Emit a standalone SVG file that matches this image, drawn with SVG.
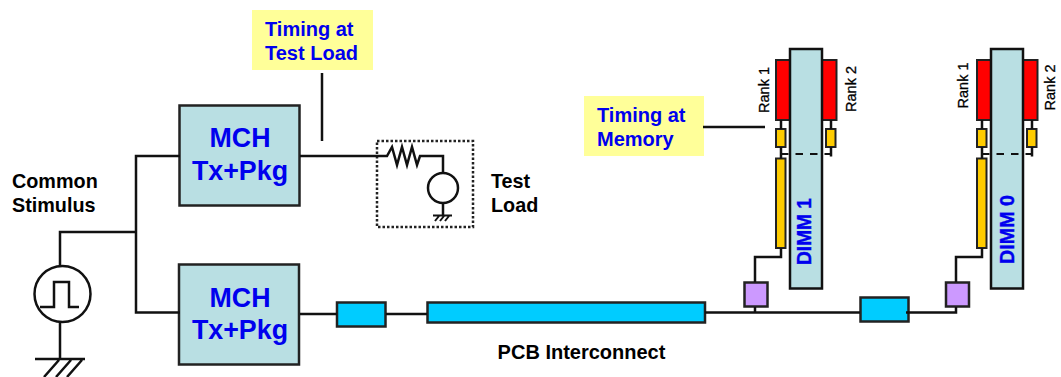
<svg xmlns="http://www.w3.org/2000/svg" width="1061" height="377" viewBox="0 0 1061 377">
<style>
text{font-family:"Liberation Sans",Arial,sans-serif;font-weight:bold}
.lbl{font-size:19.8px;fill:#000}
.blue{fill:#0000ee;text-anchor:middle;font-size:26.8px}
.tim{font-size:20px;fill:#0000ee}
.rk{font-size:14.5px;fill:#000;font-weight:normal;stroke:#000;stroke-width:.3px;text-anchor:middle}
.dim{font-size:21px;fill:#0000ee;stroke:#0000ee;stroke-width:.4px;text-anchor:middle}
.box{fill:#b9dfe3;stroke:#222;stroke-width:2.500}
.mod{fill:#b9dfe3;stroke:#111;stroke-width:2.500}
.cy{fill:#00ccff;stroke:#222;stroke-width:2.500}
.red{fill:#ff0000;stroke:#222;stroke-width:2}
.yel{fill:#ffcc00;stroke:#222;stroke-width:2}
.pur{fill:#cc99ff;stroke:#222;stroke-width:2.500}
.note{fill:#ffff99}
.w{fill:none;stroke:#111;stroke-width:2.500}
.t{fill:none;stroke:#111;stroke-width:2}
</style>
<g id="stimulus"><circle cx="62.500" cy="294" r="28" fill="#fff" stroke="#111" stroke-width="2.500"/><path class="w" d="M40 307H54V282H69V307H79"/></g>
<g id="stimulus-label"><text class="lbl" x="12" y="188">Common</text><text class="lbl" x="12" y="212">Stimulus</text></g>
<g id="mch-top"><rect class="box" x="179.500" y="105.500" width="120" height="100"/><text class="blue" x="240" y="147">MCH</text><text class="blue" x="240" y="180">Tx+Pkg</text></g>
<g id="mch-bottom"><rect class="box" x="179" y="264.500" width="120" height="100"/><text class="blue" x="240" y="307">MCH</text><text class="blue" x="240" y="339">Tx+Pkg</text></g>
<g id="timing-test"><rect class="note" x="252" y="10" width="121" height="60"/><text class="tim" x="265" y="36">Timing at</text><text class="tim" x="265" y="60">Test Load</text></g>
<g id="test-load"><rect x="377" y="141" width="96" height="86" fill="none" stroke="#222" stroke-width="2.500" stroke-dasharray="2.500 2"/><circle cx="443" cy="188" r="15" fill="#fff" stroke="#111" stroke-width="2.500"/></g>
<g id="test-label"><text class="lbl" x="491" y="188">Test</text><text class="lbl" x="491" y="212">Load</text></g>
<g id="timing-memory"><rect class="note" x="584" y="96" width="120" height="60"/><text class="tim" x="597" y="122">Timing at</text><text class="tim" x="597" y="146">Memory</text></g>
<g id="dimm1"><rect class="red" x="776" y="60" width="14" height="60"/><rect class="red" x="822" y="60" width="14.500" height="60"/><rect class="mod" x="790" y="49" width="32" height="239.500"/><rect class="yel" x="776" y="129" width="9.500" height="18"/><rect class="yel" x="826" y="129" width="9.500" height="18"/><rect class="yel" x="776" y="158.500" width="9.500" height="89.500"/><text class="dim" transform="translate(811 231.500) rotate(-90)" textLength="67" lengthAdjust="spacingAndGlyphs">DIMM 1</text><text class="rk" transform="translate(769 90) rotate(-90)">Rank 1</text><text class="rk" transform="translate(856 89) rotate(-90)">Rank 2</text></g>
<g id="dimm0"><rect class="red" x="977" y="60" width="14" height="60"/><rect class="red" x="1023" y="60" width="14.500" height="60"/><rect class="mod" x="991" y="49" width="32" height="239.500"/><rect class="yel" x="977" y="129" width="9.500" height="18"/><rect class="yel" x="1027" y="129" width="9.500" height="18"/><rect class="yel" x="977" y="158.500" width="9.500" height="89.500"/><text class="dim" transform="translate(1014 229.500) rotate(-90)" textLength="69" lengthAdjust="spacingAndGlyphs">DIMM 0</text><text class="rk" transform="translate(968 85.500) rotate(-90)">Rank 1</text><text class="rk" transform="translate(1055 87.500) rotate(-90)">Rank 2</text></g>
<g id="pcb-seg1"><rect class="cy" x="337" y="302.500" width="48.500" height="24"/></g>
<g id="pcb-seg2"><rect class="cy" x="427.500" y="302.500" width="277.500" height="20"/></g>
<g id="pcb-seg3"><rect class="cy" x="860.500" y="297.500" width="48" height="24"/></g>
<g id="via1"><rect class="pur" x="744.500" y="282.500" width="23" height="24"/></g>
<g id="via0"><rect class="pur" x="946" y="282.500" width="23" height="24"/></g>
<g id="pcb-label"><text class="lbl" x="581.500" y="359" text-anchor="middle" style="font-size:20px">PCB Interconnect</text></g>
<g id="connectors">
<path class="w" d="M180 156H136V312.500H180M135 232H60V266M60 322V358M35 359H85M59 360L44 377M71 360L56 377M82 360L67 377"/>
<path class="w" d="M300 156H387L392 147L397 165L402 147L407 165L412 147L417 165L420 156H443V173M443 203V216"/>
<path class="w" d="M322 73V141"/>
<path class="w" d="M300 314H337M386 314H427M705 312.500H860M906 312.500H956V307M755 307V312.500"/>
<path class="w" d="M781 248V257H755V282M781 120V129M781 147V158.500M831 120V129M831 147V156.500"/>
<path class="w" d="M982 248V257H956V282M982 120V129M982 147V158.500M1032 120V129M1032 147V156.500"/>
<path class="w" d="M703 127H765"/>
<path d="M781 154H832M982 154H1033" fill="none" stroke="#111" stroke-width="2" stroke-dasharray="7.500 7"/>
<path class="t" d="M433 215.500H452M435 221L439 216M440 221L444 216M445 221L449 216"/>
</g>
</svg>
